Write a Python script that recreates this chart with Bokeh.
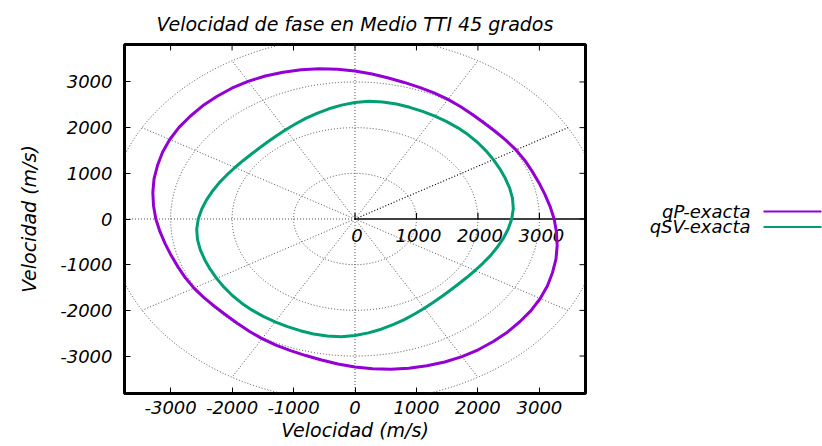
import numpy as np
from bokeh.plotting import figure
from bokeh.models import Range1d, FixedTicker, Title
from bokeh.layouts import row
from bokeh.embed import file_html
from bokeh.resources import INLINE
from bokeh.core.properties import value

# ---------------- data ----------------
TITLE = "Velocidad de fase en Medio TTI 45 grados"
X_LABEL = "Velocidad (m/s)"
Y_LABEL = "Velocidad (m/s)"

# phase angle (degrees) and phase velocity (m/s) of each mode
angles_deg = [0, 5, 10, 15, 20, 25, 30, 35, 40, 45, 50, 55, 60, 65, 70, 75, 80, 85,
              90, 95, 100, 105, 110, 115, 120, 125, 130, 135, 140, 145, 150, 155, 160, 165, 170, 175,
              180, 185, 190, 195, 200, 205, 210, 215, 220, 225, 230, 235, 240, 245, 250, 255, 260, 265,
              270, 275, 280, 285, 290, 295, 300, 305, 310, 315, 320, 325, 330, 335, 340, 345, 350, 355]

qP_exacta = [3240, 3185, 3135, 3095, 3065, 3045, 3025, 3000, 2980, 2970, 2980, 3000, 3025, 3045, 3065, 3095, 3135, 3185,
             3240, 3290, 3340, 3385, 3420, 3455, 3480, 3495, 3500, 3505, 3500, 3495, 3480, 3455, 3420, 3385, 3340, 3290,
             3240, 3185, 3135, 3095, 3065, 3045, 3025, 3000, 2980, 2970, 2980, 3000, 3025, 3045, 3065, 3095, 3135, 3185,
             3240, 3290, 3340, 3385, 3420, 3455, 3480, 3495, 3500, 3505, 3500, 3495, 3480, 3455, 3420, 3385, 3340, 3290]

qSV_exacta = [2550, 2585, 2602, 2605, 2602, 2600, 2600, 2602, 2605, 2606, 2605, 2602, 2600, 2600, 2602, 2605, 2602, 2585,
              2550, 2502, 2450, 2395, 2345, 2295, 2255, 2225, 2205, 2200, 2205, 2225, 2255, 2295, 2345, 2395, 2450, 2502,
              2550, 2585, 2602, 2605, 2602, 2600, 2600, 2602, 2605, 2606, 2605, 2602, 2600, 2600, 2602, 2605, 2602, 2585,
              2550, 2502, 2450, 2395, 2345, 2295, 2255, 2225, 2205, 2200, 2205, 2225, 2255, 2295, 2345, 2395, 2450, 2502]

series_names = ["qP-exacta", "qSV-exacta"]
series_colors = ["#9400D3", "#009E73"]

axis_ticks = [-3000, -2000, -1000, 0, 1000, 2000, 3000]
axis_tick_labels = ["-3000", "-2000", "-1000", "0", "1000", "2000", "3000"]
r_ticks = [0, 1000, 2000, 3000]
r_tick_labels = ["0", "1000", "2000", "3000"]
grid_radii = [1000, 2000, 3000, 4000]
grid_angles = [60, 90, 120, 150, 180, 210, 240, 270, 300, 330]
dark_grid_angles = [30]

X_MIN, X_MAX = -3750, 3750
Y_MIN, Y_MAX = -3820, 3820
FONT = "DejaVu Sans"
FRAME_W, FRAME_H = 461, 350
BORDER_TOP = 43

# ---------------- main polar plot ----------------
p = figure(width=600, height=446, title=None,
           x_range=Range1d(X_MIN, X_MAX), y_range=Range1d(Y_MIN, Y_MAX),
           output_backend="svg", toolbar_location=None,
           min_border_left=124, min_border_right=15,
           min_border_top=BORDER_TOP, min_border_bottom=53)
p.xgrid.visible = False
p.ygrid.visible = False
p.outline_line_color = "black"
p.outline_line_width = 3
p.background_fill_color = "white"
p.border_fill_color = "white"

bottom_axis = p.below[0]
left_axis = p.left[0]

overrides = {t: s for t, s in zip(axis_ticks, axis_tick_labels)}
for ax in (bottom_axis, left_axis):
    ax.ticker = FixedTicker(ticks=axis_ticks, minor_ticks=[])
    ax.major_label_overrides = overrides
    ax.axis_line_color = None
    ax.major_tick_in = 6
    ax.major_tick_out = 0
    ax.minor_tick_in = 0
    ax.minor_tick_out = 0
    ax.major_tick_line_color = "black"
    ax.major_tick_line_width = 1
    ax.major_label_text_font = FONT
    ax.major_label_text_font_style = "italic"
    ax.major_label_text_font_size = "18px"
    ax.major_label_text_color = "black"
    ax.axis_label_text_font = FONT
    ax.axis_label_text_font_style = "italic"
    ax.axis_label_text_font_size = "19px"
    ax.axis_label_text_color = "black"
bottom_axis.axis_label = X_LABEL
left_axis.axis_label = Y_LABEL
bottom_axis.major_label_standoff = 7
left_axis.major_label_standoff = 12
bottom_axis.axis_label_standoff = 2
left_axis.axis_label_standoff = 17

p.add_layout(Title(text=TITLE, align="center", text_font=FONT, text_font_style="italic",
                   text_font_size="19px", text_color="black", standoff=20), "above")

# mirrored inward ticks on the top and right frame edges
x_per_px = (X_MAX - X_MIN) / FRAME_W
y_per_px = (Y_MAX - Y_MIN) / FRAME_H
TICK = 6
p.segment(x0=axis_ticks, y0=[Y_MAX] * len(axis_ticks), x1=axis_ticks,
          y1=[Y_MAX - TICK * y_per_px] * len(axis_ticks), line_color="black", line_width=1)
p.segment(x0=[X_MAX] * len(axis_ticks), y0=axis_ticks, x1=[X_MAX - TICK * x_per_px] * len(axis_ticks),
          y1=axis_ticks, line_color="black", line_width=1)

# polar grid: circles
p.ellipse(x=[0] * len(grid_radii), y=[0] * len(grid_radii),
          width=[2 * r for r in grid_radii], height=[2 * r for r in grid_radii],
          fill_color=None, line_color="#333333", line_alpha=0.85, line_width=1, line_dash="1 2")

# polar grid: radial lines
R_OUT = max(grid_radii)
ga = np.deg2rad(np.array(grid_angles, dtype=float))
p.segment(x0=np.zeros(len(ga)), y0=np.zeros(len(ga)), x1=R_OUT * np.cos(ga), y1=R_OUT * np.sin(ga),
          line_color="#333333", line_alpha=0.85, line_width=1, line_dash="1 2")
da = np.deg2rad(np.array(dark_grid_angles, dtype=float))
p.segment(x0=np.zeros(len(da)), y0=np.zeros(len(da)), x1=R_OUT * np.cos(da), y1=R_OUT * np.sin(da),
          line_color="black", line_alpha=1.0, line_width=1.2, line_dash="1 2")

# radial axis (solid) with ticks and labels
p.segment(x0=[0], y0=[0], x1=[X_MAX], y1=[0], line_color="black", line_width=1.5)
p.segment(x0=r_ticks, y0=[0] * len(r_ticks), x1=r_ticks, y1=[6 * y_per_px] * len(r_ticks),
          line_color="black", line_width=1.2)
p.text(x=r_ticks, y=[-17 * y_per_px] * len(r_ticks), text=r_tick_labels,
       text_align="center", text_baseline="middle", x_offset=2,
       text_font=value(FONT), text_font_style="italic", text_font_size="18px", text_color="black")

# curves (polar -> cartesian)
th = np.deg2rad(np.array(angles_deg + [angles_deg[0]], dtype=float))
for vals, col in zip([qP_exacta, qSV_exacta], series_colors):
    r = np.array(vals + [vals[0]], dtype=float)
    p.line(r * np.cos(th), r * np.sin(th), line_color=col, line_width=3, line_join="round")

# ---------------- legend panel (gnuplot style: text then sample) ----------------
# The row layout aligns this panel's frame with the main frame, so its y range
# is expressed in page pixels spanning the main frame's vertical extent.
p2 = figure(width=222, height=446, title=None, x_range=Range1d(600, 822),
            y_range=Range1d(BORDER_TOP + FRAME_H, BORDER_TOP),
            x_axis_type=None, y_axis_type=None,
            output_backend="svg", toolbar_location=None,
            min_border_left=0, min_border_right=0, min_border_top=0, min_border_bottom=0)
p2.outline_line_color = None
p2.xgrid.visible = False
p2.ygrid.visible = False
leg_y = [210.5, 226.0]
p2.text(x=[750, 750], y=leg_y, text=series_names, text_align="right", text_baseline="middle",
        text_font=value(FONT), text_font_style="italic", text_font_size="18px", text_color="black")
p2.segment(x0=[763, 763], y0=leg_y, x1=[821, 821], y1=leg_y, line_color=series_colors, line_width=2)

layout = row(p, p2)
open("out.html", "w").write(file_html(layout, INLINE))
